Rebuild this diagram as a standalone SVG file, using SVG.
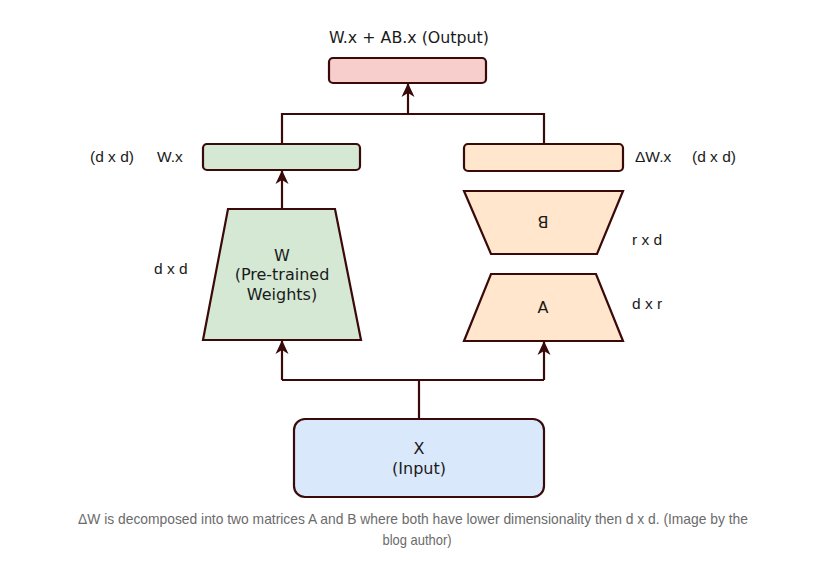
<svg xmlns="http://www.w3.org/2000/svg" width="814" height="573" viewBox="0 0 814 573">
<defs>
<marker id="arr" viewBox="0 0 14 14" refX="13" refY="7" markerWidth="14" markerHeight="14" markerUnits="userSpaceOnUse" orient="auto">
<path d="M0,0.5 L14,7 L0,13.5 L4,7 Z" fill="#3a0a0a"/>
</marker>
<style>
.s{stroke:#3a0a0a;stroke-width:2.2}
.c{fill:none;stroke:#3a0a0a;stroke-width:2.2}
.t{font-family:"DejaVu Sans",Verdana,sans-serif;font-size:16px;fill:#1a1a1a;text-anchor:middle}
.l{font-family:"Liberation Sans",Arial,sans-serif;font-size:15.5px;fill:#1a1a1a}
.cap{font-family:"Liberation Sans",Arial,sans-serif;font-size:14.5px;fill:#6b6b6b;text-anchor:middle}
</style>
</defs>
<rect width="814" height="573" fill="#ffffff"/>
<g id="connectors">
<path class="c" d="M419,419 V380 M282,380 H544"/>
<path class="c" d="M282,380 V341" marker-end="url(#arr)"/>
<path class="c" d="M544,380 V342" marker-end="url(#arr)"/>
<path class="c" d="M282,209 V171" marker-end="url(#arr)"/>
<path class="c" d="M282,144 V114 H544 V144"/>
<path class="c" d="M408,114 V84" marker-end="url(#arr)"/>
</g>
<g id="output">
<rect class="s" x="329" y="58" width="157" height="25" rx="4" fill="#f8cecc"/>
<text class="t" x="409" y="43" textLength="160" lengthAdjust="spacingAndGlyphs">W.x + AB.x (Output)</text>
</g>
<g id="wx">
<rect class="s" x="203" y="144" width="157" height="26" rx="4" fill="#d5e8d4"/>
<text class="l" x="90" y="162">(d x d)</text>
<text class="l" x="157" y="162">W.x</text>
</g>
<g id="dwx">
<rect class="s" x="464" y="144" width="159" height="27" rx="4" fill="#ffe6cc"/>
<text class="l" x="635" y="162">ΔW.x</text>
<text class="l" x="692" y="162">(d x d)</text>
</g>
<g id="W">
<path class="s" d="M228,209 H335 L361,340 H203 Z" fill="#d5e8d4"/>
<text class="t" x="282" y="261">W</text>
<text class="t" x="282" y="280">(Pre-trained</text>
<text class="t" x="282" y="300">Weights)</text>
<text class="l" x="154" y="274">d x d</text>
</g>
<g id="B">
<path class="s" d="M464,191 H623 L597,254 H491 Z" fill="#ffe6cc"/>
<text class="t" transform="translate(543,222) rotate(180)" y="6">B</text>
<text class="l" x="632" y="245">r x d</text>
</g>
<g id="A">
<path class="s" d="M491,274 H596 L623,341 H464 Z" fill="#ffe6cc"/>
<text class="t" x="543" y="313">A</text>
<text class="l" x="632" y="309">d x r</text>
</g>
<g id="input">
<rect class="s" x="294" y="419" width="250" height="78" rx="11" fill="#dae8fc"/>
<text class="t" x="419" y="454">X</text>
<text class="t" x="419" y="474">(Input)</text>
</g>
<g id="caption">
<text class="cap" x="413" y="524" textLength="670" lengthAdjust="spacingAndGlyphs">ΔW is decomposed into two matrices A and B where both have lower dimensionality then d x d. (Image by the</text>
<text class="cap" x="417" y="545" textLength="69" lengthAdjust="spacingAndGlyphs">blog author)</text>
</g>
</svg>
